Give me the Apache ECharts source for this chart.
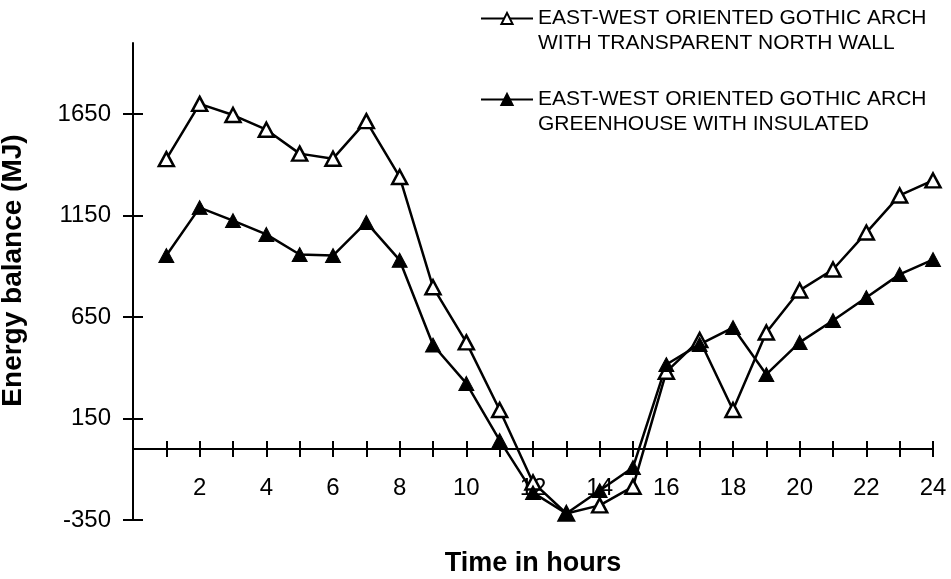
<!DOCTYPE html>
<html>
<head>
<meta charset="utf-8">
<script src="https://cdn.jsdelivr.net/npm/echarts@6/dist/echarts.min.js"></script>
<style>
html,body{margin:0;padding:0;background:#fff;}
#chart{width:951px;height:579px;}
</style>
</head>
<body>
<div id="chart"></div>
<script>
const hours = [1,2,3,4,5,6,7,8,9,10,11,12,13,14,15,16,17,18,19,20,21,22,23,24];
const transparentNorth = [1428,1700,1645,1573,1455,1430,1615,1340,797,525,192,-165,-318,-278,-186,380,537,192,574,781,884,1066,1249,1323];
const insulatedNorth = [953,1189,1125,1057,958,953,1116,930,512,323,42,-215,-318,-205,-91,416,515,598,367,525,633,746,860,933];
const yTicks = [-350,150,650,1150,1650];
const xLabelHours = [2,4,6,8,10,12,14,16,18,20,22,24];
const seriesNames = [
  'EAST-WEST ORIENTED GOTHIC ARCH\nWITH TRANSPARENT NORTH WALL',
  'EAST-WEST ORIENTED GOTHIC ARCH\nGREENHOUSE WITH INSULATED'
];
const xAxisName = 'Time in hours';
const yAxisName = 'Energy balance (MJ)';

const FONT = '"Liberation Sans", Arial, sans-serif';
const chart = echarts.init(document.getElementById('chart'), null, {renderer:'canvas'});
const pair = (arr) => hours.map((h,i)=>[h, arr[i]]);
const plain = (v) => String(v);

const xBase = {
  type:'value', min:0, max:24, interval:1,
  splitLine:{show:false}
};
const yBase = {
  type:'value', min:-350, max:2000,
  splitLine:{show:false}
};

chart.setOption({
  animation:false,
  backgroundColor:'#fff',
  grid:{left:133, right:18, top:43, bottom:59, containLabel:false, outerBoundsMode:'none'},
  legend:{
    orient:'vertical', left:480, top:-19, padding:0,
    itemWidth:52, itemHeight:14, itemGap:6,
    formatter:(name)=>' \n' + name,
    textStyle:{fontFamily:FONT, fontSize:21, color:'#000', lineHeight:25},
    data:seriesNames
  },
  xAxis:[
    Object.assign({}, xBase, {
      position:'bottom',
      name:xAxisName, nameLocation:'middle', nameGap:30, nameMoveOverlap:false,
      nameTextStyle:{fontFamily:FONT, fontSize:27, fontWeight:'bold', color:'#000'},
      axisLine:{onZero:true, onZeroAxisIndex:0, lineStyle:{color:'#000', width:2}},
      axisTick:{show:true, inside:false, length:8, lineStyle:{color:'#000', width:2}},
      axisLabel:{
        margin:-44, fontFamily:FONT, fontSize:24, color:'#000',
        customValues:xLabelHours, formatter:plain
      }
    }),
    Object.assign({}, xBase, {
      position:'top',
      axisLine:{show:false, onZero:true, onZeroAxisIndex:0},
      axisTick:{show:true, inside:false, length:8, lineStyle:{color:'#000', width:2}},
      axisLabel:{show:false}
    })
  ],
  yAxis:[
    Object.assign({}, yBase, {
      position:'left',
      name:yAxisName, nameLocation:'middle', nameGap:106, nameRotate:90, nameMoveOverlap:false,
      nameTextStyle:{fontFamily:FONT, fontSize:28, fontWeight:'bold', color:'#000', padding:[0,0,0,22]},
      axisLine:{onZero:true, onZeroAxisIndex:0, lineStyle:{color:'#000', width:2}},
      axisTick:{show:true, inside:false, length:10, lineStyle:{color:'#000', width:2}, customValues:yTicks},
      axisLabel:{margin:22, fontFamily:FONT, fontSize:24, color:'#000', customValues:yTicks, formatter:plain}
    }),
    Object.assign({}, yBase, {
      position:'right',
      axisLine:{show:false, onZero:true, onZeroAxisIndex:0},
      axisTick:{show:true, inside:false, length:10, lineStyle:{color:'#000', width:2}, customValues:yTicks},
      axisLabel:{show:false}
    })
  ],
  series:[
    {
      name:seriesNames[0], type:'line', data:pair(transparentNorth),
      symbol:'triangle', symbolSize:[15,14],
      lineStyle:{color:'#000', width:2.5},
      itemStyle:{color:'#fff', borderColor:'#000', borderWidth:2.5},
      z:3
    },
    {
      name:seriesNames[1], type:'line', data:pair(insulatedNorth),
      symbol:'triangle', symbolSize:[15,14],
      lineStyle:{color:'#000', width:2.5},
      itemStyle:{color:'#000', borderColor:'#000', borderWidth:1},
      z:3
    }
  ]
});
</script>
</body>
</html>
